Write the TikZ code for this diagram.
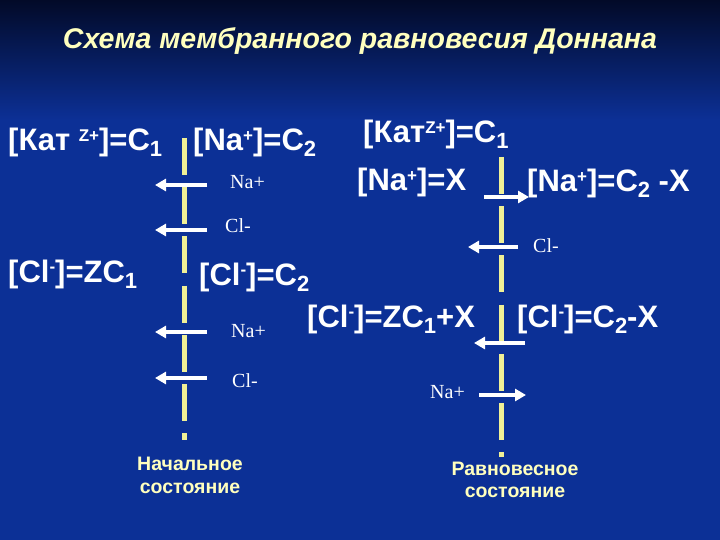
\documentclass[tikz,border=0pt]{standalone}
\usepackage{fontspec}
\setmainfont{Liberation Sans}
\newfontfamily\ionfont{Liberation Serif}
\usetikzlibrary{arrows.meta}

\definecolor{bgblue}{RGB}{12,48,150}
\definecolor{bgtop}{RGB}{2,10,40}
\definecolor{paleyellow}{RGB}{255,255,190}
\definecolor{memyellow}{RGB}{240,240,150}

\newcommand\hi[1]{\raisebox{9.5pt}{\fontsize{17}{17}\selectfont #1}}
\newcommand\lo[1]{\raisebox{-6pt}{\fontsize{22}{22}\selectfont #1}}

\tikzset{
  conc/.style={anchor=base west, inner sep=0pt, text=white, font=\bfseries\fontsize{31}{31}\selectfont},
  ion/.style={anchor=base west, inner sep=0pt, text=white, font=\ionfont\fontsize{20}{20}\selectfont},
  membrane/.style={draw=memyellow, line width=5pt, dash pattern=on 37pt off 12.2pt},
  flux/.style={draw=white, line width=4pt, -{Triangle[length=11pt, width=12pt]}},
  state/.style={anchor=base, inner sep=0pt, text=paleyellow, font=\bfseries\fontsize{19.5}{23}\selectfont},
}

\begin{document}
\begin{tikzpicture}[x=1pt, y=-1pt]

\fill[bgblue] (0,0) rectangle (720,540);
\shade[top color=bgtop, bottom color=bgblue] (0,0) rectangle (720,120);
\useasboundingbox (0,0) rectangle (720,540);

\node[anchor=base, inner sep=0pt, text=paleyellow, font=\bfseries\itshape\fontsize{28.5}{28.5}\selectfont] (title) at (360,49) {Схема мембранного равновесия Доннана};

% initial state
\draw[membrane] (184,138) coordinate (m1-top) -- (184,440) coordinate (m1-bot);

\node[conc] (kat-init) at (8,151) {[Кат \hi{Z+}]=C\lo{1}};
\node[conc] (na-init) at (193,151) {[Na\hi{+}]=C\lo{2}};
\node[conc] (cl-in-init) at (8,282) {[Cl\hi{-}]=ZC\lo{1}};
\node[conc] (cl-out-init) at (199,285) {[Cl\hi{-}]=C\lo{2}};

\coordinate (f1-start) at (207,185); \coordinate (f1-end) at (155,185);
\coordinate (f2-start) at (207,230); \coordinate (f2-end) at (155,230);
\coordinate (f3-start) at (207,332); \coordinate (f3-end) at (155,332);
\coordinate (f4-start) at (207,378); \coordinate (f4-end) at (155,378);
\draw[flux] (f1-start) -- (f1-end);
\draw[flux] (f2-start) -- (f2-end);
\draw[flux] (f3-start) -- (f3-end);
\draw[flux] (f4-start) -- (f4-end);

\node[ion] (na1-label) at (230,189) {Na+};
\node[ion] (cl1-label) at (225,233) {Cl-};
\node[ion] (na2-label) at (231,337) {Na+};
\node[ion] (cl2-label) at (232,387) {Cl-};

\node[state] (init-1) at (190,470) {Начальное};
\node[state] (init-2) at (190,493) {состояние};

% equilibrium state
\draw[membrane] (501,157) coordinate (m2-top) -- (501,457) coordinate (m2-bot);

\node[conc] (kat-eq) at (363,143) {[Кат\hi{Z+}]=C\lo{1}};
\node[conc] (na-in-eq) at (357,191) {[Na\hi{+}]=X};
\node[conc] (na-out-eq) at (527,192) {[Na\hi{+}]=C\lo{2} -X};
\node[conc] (cl-in-eq) at (307,327) {[Cl\hi{-}]=ZC\lo{1}+X};
\node[conc] (cl-out-eq) at (517,327) {[Cl\hi{-}]=C\lo{2}-X};

\coordinate (g1-start) at (484,197); \coordinate (g1-end) at (529,197);
\coordinate (g2-start) at (518,247); \coordinate (g2-end) at (468,247);
\coordinate (g3-start) at (525,343); \coordinate (g3-end) at (474,343);
\coordinate (g4-start) at (479,395); \coordinate (g4-end) at (526,395);
\draw[flux] (g1-start) -- (g1-end);
\draw[flux] (g2-start) -- (g2-end);
\draw[flux] (g3-start) -- (g3-end);
\draw[flux] (g4-start) -- (g4-end);

\node[ion] (cl3-label) at (533,252) {Cl-};
\node[ion] (na3-label) at (430,398) {Na+};

\node[state] (eq-1) at (515,475) {Равновесное};
\node[state] (eq-2) at (515,497) {состояние};

\end{tikzpicture}
\end{document}
